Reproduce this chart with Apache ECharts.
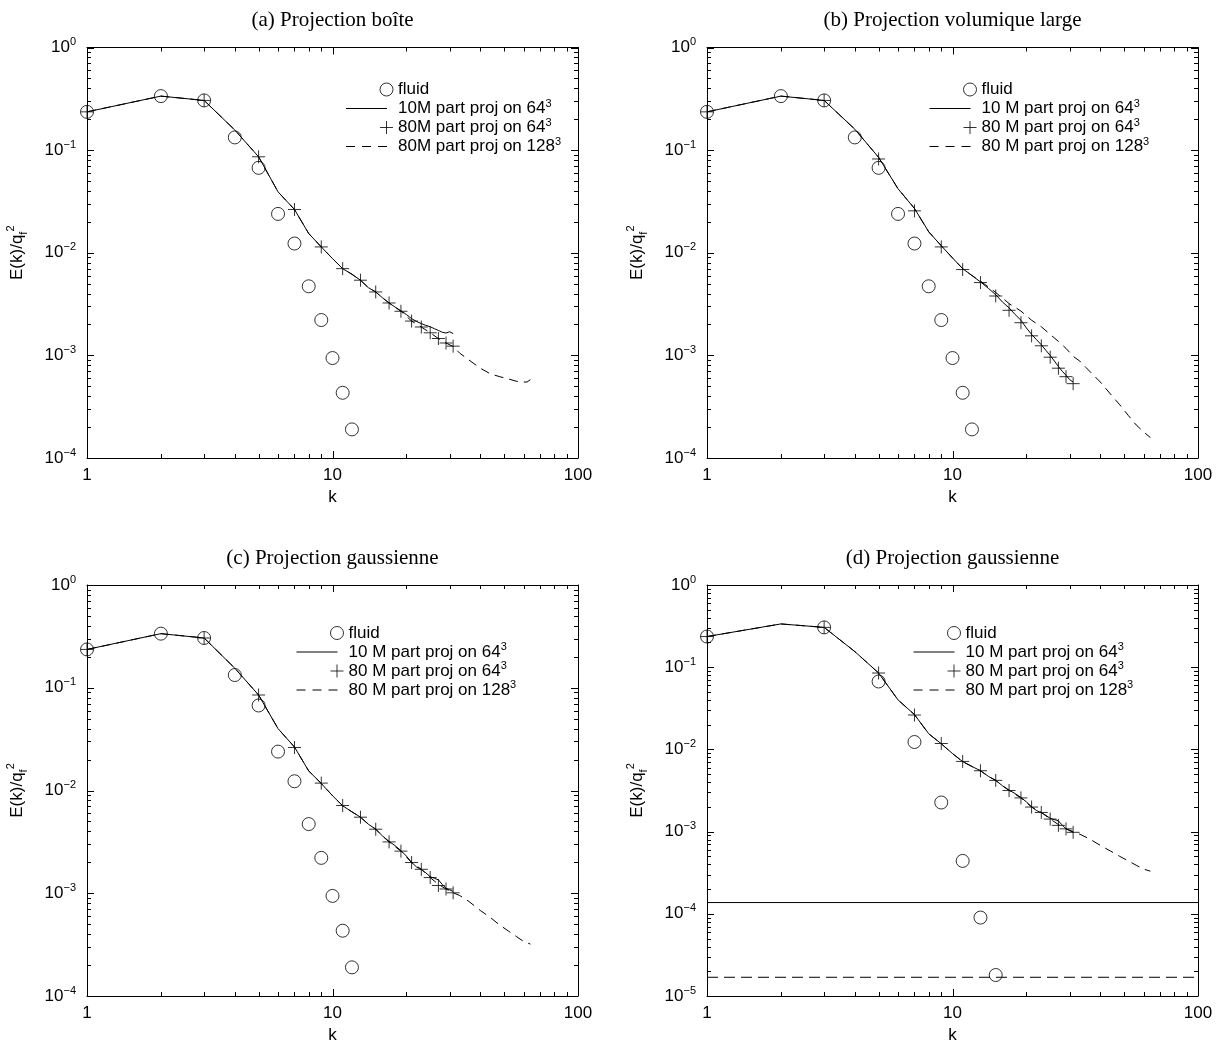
<!DOCTYPE html>
<html>
<head>
<meta charset="utf-8">
<script src="https://cdn.jsdelivr.net/npm/echarts@6/dist/echarts.min.js"></script>
<style>html,body{margin:0;padding:0;background:#fff}#c{width:1227px;height:1048px}</style>
</head>
<body>
<div id="c"></div>
<script>
// ---------- data ----------
const panelTitles = ['(a) Projection boîte', '(b) Projection volumique large', '(c) Projection gaussienne', '(d) Projection gaussienne'];
const xTicks = [1, 10, 100];
const yTicksABC = [1e-4, 1e-3, 1e-2, 1e-1, 1];
const yTicksD = [1e-5, 1e-4, 1e-3, 1e-2, 1e-1, 1];
const minorMultipliers = [2, 3, 4, 5, 6, 7, 8, 9];

const kFluid = [1, 2, 3, 4, 5, 6, 7, 8, 9, 10, 11, 12];
const fluidABC = [0.236, 0.336, 0.305, 0.133, 0.0672, 0.0239, 0.0123, 0.00471, 0.00221, 0.000942, 0.000432, 0.00019];
const kFluidD = [1, 3, 5, 7, 9, 11, 13, 15];
const fluidD = [0.236, 0.305, 0.067, 0.0123, 0.00226, 0.00044, 0.00009, 0.000018];

const k31 = [1, 2, 3, 4, 5, 6, 7, 8, 9, 10, 11, 12, 13, 14, 15, 16, 17, 18, 19, 20, 21, 22, 23, 24, 25, 26, 27, 28, 29, 30, 31];
const kOdd = [1, 3, 5, 7, 9, 11, 13, 15, 17, 19, 21, 23, 25, 27, 29, 31];

// (a)
const solidA = [0.236, 0.336, 0.305, 0.157, 0.0861, 0.0392, 0.0264, 0.0154, 0.0114, 0.00877, 0.0070, 0.00617, 0.0054, 0.00457, 0.00415, 0.00363, 0.00324, 0.00295, 0.00272, 0.0025, 0.00228, 0.00214, 0.00204, 0.00196, 0.0019, 0.00182, 0.00175, 0.00168, 0.00165, 0.0017, 0.00163];
const crossA = [0.236, 0.305, 0.0861, 0.0264, 0.0114, 0.0070, 0.0054, 0.00415, 0.00324, 0.00269, 0.00216, 0.00189, 0.00166, 0.00146, 0.00132, 0.00123];
const kDashA = [1, 2, 3, 4, 5, 6, 7, 8, 9, 10, 11, 12, 13, 14, 15, 16, 17, 19, 21, 23, 25, 27, 29, 31, 33, 36, 40, 44, 48, 52, 56, 60, 62, 64];
const dashA = [0.236, 0.336, 0.305, 0.157, 0.0861, 0.0392, 0.0264, 0.0154, 0.0114, 0.00877, 0.0070, 0.00617, 0.0054, 0.00457, 0.00415, 0.00363, 0.00324, 0.00269, 0.00216, 0.00189, 0.00166, 0.00146, 0.00132, 0.00122, 0.00105, 0.0009, 0.00075, 0.00066, 0.00062, 0.00059, 0.00056, 0.00055, 0.00055, 0.00058];

// (b)
const solidB = [0.236, 0.336, 0.305, 0.16, 0.085, 0.042, 0.027, 0.016, 0.0117, 0.0089, 0.0070, 0.0060, 0.0052, 0.0045, 0.0039, 0.0033, 0.0029, 0.0025, 0.0022, 0.00185, 0.0016, 0.00142, 0.00127, 0.00112, 0.001, 0.00088, 0.00078, 0.0007, 0.00064, 0.00058, 0.00055];
const crossB = [0.236, 0.305, 0.082, 0.0256, 0.0114, 0.00686, 0.00512, 0.00379, 0.00275, 0.00208, 0.00155, 0.00124, 0.00096, 0.00075, 0.00062, 0.00053];
const kDashB = [1, 2, 3, 4, 5, 6, 7, 8, 9, 10, 11, 12, 13, 15, 17, 19, 21, 23, 25, 27, 29, 31, 33, 35, 40, 44, 48, 52, 56, 60, 64];
const dashB = [0.236, 0.336, 0.305, 0.16, 0.085, 0.042, 0.027, 0.016, 0.0117, 0.0089, 0.0070, 0.0060, 0.0053, 0.0041, 0.0032, 0.0027, 0.0022, 0.0019, 0.0016, 0.00137, 0.00117, 0.00098, 0.00088, 0.00076, 0.00055, 0.00042, 0.00033, 0.00026, 0.00021, 0.00018, 0.000158];

// (c)
const solidC = [0.236, 0.336, 0.305, 0.155, 0.085, 0.04, 0.0265, 0.0155, 0.0117, 0.0089, 0.0071, 0.0062, 0.0055, 0.0047, 0.0042, 0.0036, 0.0032, 0.0029, 0.0026, 0.0023, 0.0020, 0.0018, 0.0017, 0.00158, 0.00145, 0.0014, 0.00135, 0.00122, 0.00112, 0.00108, 0.00104];
const crossC = [0.236, 0.305, 0.085, 0.0262, 0.0118, 0.00714, 0.0055, 0.0042, 0.00316, 0.00257, 0.00199, 0.00171, 0.00142, 0.00119, 0.0011, 0.00101];
const kDashC = [1, 2, 3, 4, 5, 6, 7, 8, 9, 10, 11, 12, 13, 14, 15, 16, 17, 19, 21, 23, 25, 27, 29, 31, 33, 36, 40, 44, 48, 52, 56, 60, 64];
const dashC = [0.236, 0.336, 0.305, 0.155, 0.085, 0.04, 0.0265, 0.0155, 0.0117, 0.0089, 0.0071, 0.0062, 0.0055, 0.0047, 0.0042, 0.0036, 0.00316, 0.00257, 0.00199, 0.00171, 0.00142, 0.00122, 0.0011, 0.00101, 0.00095, 0.00083, 0.00068, 0.00058, 0.00049, 0.00043, 0.00038, 0.00034, 0.00032];

// (d)
const solidD = [0.236, 0.336, 0.305, 0.155, 0.085, 0.04, 0.0265, 0.0155, 0.0117, 0.0089, 0.0071, 0.0062, 0.0055, 0.0047, 0.0042, 0.0036, 0.0032, 0.0029, 0.0026, 0.0023, 0.0020, 0.0018, 0.0017, 0.00158, 0.00145, 0.0014, 0.00135, 0.0012, 0.00108, 0.00104, 0.001];
const crossD = [0.236, 0.305, 0.085, 0.0262, 0.0118, 0.00714, 0.0055, 0.0042, 0.00316, 0.00257, 0.00199, 0.00171, 0.00142, 0.00119, 0.00108, 0.00098];
const kDashD = [1, 2, 3, 4, 5, 6, 7, 8, 9, 10, 11, 12, 13, 14, 15, 16, 17, 19, 21, 23, 25, 27, 29, 31, 33, 36, 40, 44, 48, 52, 56, 60, 64];
const dashD = [0.236, 0.336, 0.305, 0.155, 0.085, 0.04, 0.0265, 0.0155, 0.0117, 0.0089, 0.0071, 0.0062, 0.0055, 0.0047, 0.0042, 0.0036, 0.00316, 0.00257, 0.00199, 0.00171, 0.00142, 0.00122, 0.00108, 0.00098, 0.00093, 0.00082, 0.00068, 0.00058, 0.0005, 0.00044, 0.00039, 0.00035, 0.00033];
const kNoiseD = [1, 100];
const noiseD10M = [1.37e-4, 1.37e-4];
const noiseD80M = [1.69e-5, 1.69e-5];

const namesA = ['fluid', '10M part proj on 64³', '80M part proj on 64³', '80M part proj on 128³'];
const namesBCD = ['fluid', '10 M part proj on 64³', '80 M part proj on 64³', '80 M part proj on 128³'];

// ---------- layout ----------
const FONT = 'Liberation Sans';
const grids = [
  {left: 87, top: 47.5, width: 491, height: 410.5},
  {left: 707, top: 47.5, width: 491, height: 410.5},
  {left: 87, top: 585, width: 491, height: 411},
  {left: 707, top: 585, width: 491, height: 411}
];
const legendPos = [[345.5, 81], [929, 81], [296, 624.5], [913, 624.5]];

const panels = [
  {fluidK: kFluid, fluid: fluidABC, solid: solidA, cross: crossA, dashK: kDashA, dash: dashA, names: namesA, ymin: 1e-4, yTicks: yTicksABC},
  {fluidK: kFluid, fluid: fluidABC, solid: solidB, cross: crossB, dashK: kDashB, dash: dashB, names: namesBCD, ymin: 1e-4, yTicks: yTicksABC},
  {fluidK: kFluid, fluid: fluidABC, solid: solidC, cross: crossC, dashK: kDashC, dash: dashC, names: namesBCD, ymin: 1e-4, yTicks: yTicksABC},
  {fluidK: kFluidD, fluid: fluidD, solid: solidD, cross: crossD, dashK: kDashD, dash: dashD, names: namesBCD, ymin: 1e-5, yTicks: yTicksD,
   noise10: noiseD10M, noise80: noiseD80M}
];

const black = {color: '#000', width: 1};
const supFmt = v => {
  const e = Math.round(Math.log10(v));
  return '{b|10}{e|' + (e < 0 ? '\u2212' + (-e) : String(e)) + '}';
};
const legendFmt = name => {
  const m = name.match(/^(.*)³$/);
  return m ? '{t|' + m[1] + '}{s|3}' : '{t|' + name + '}';
};

const xAxes = [], yAxes = [], series = [], legends = [], titles = [];
panels.forEach((p, gi) => {
  const xBase = {type: 'log', logBase: 10, gridIndex: gi, min: 1, max: 100, splitLine: {show: false}, axisTick: {show: false}};
  const yBase = {type: 'log', logBase: 10, gridIndex: gi, min: p.ymin, max: 1, splitLine: {show: false}, axisTick: {show: false}};
  xAxes.push(Object.assign({}, xBase, {
    position: 'bottom',
    axisLine: {show: true, onZero: false, lineStyle: black},
    axisLabel: {show: true, customValues: xTicks, color: '#000', fontSize: 17, fontFamily: FONT, margin: 9},
    name: 'k', nameLocation: 'middle', nameGap: 31,
    nameTextStyle: {color: '#000', fontSize: 17, fontFamily: FONT}
  }));
  xAxes.push(Object.assign({}, xBase, {
    position: 'top',
    axisLine: {show: true, onZero: false, lineStyle: black},
    axisLabel: {show: false}
  }));
  yAxes.push(Object.assign({}, yBase, {
    position: 'left',
    axisLine: {show: true, onZero: false, lineStyle: black},
    axisLabel: {
      show: true, customValues: p.yTicks, margin: 11, formatter: supFmt,
      rich: {
        b: {fontSize: 17, fontFamily: FONT, color: '#000', lineHeight: 22},
        e: {fontSize: 11, fontFamily: FONT, color: '#000', lineHeight: 11, verticalAlign: 'top'}
      }
    },
    name: '{n|E(k)/q}{s|f}{p|2}', nameLocation: 'middle', nameGap: 58, nameRotate: 90,
    nameTextStyle: {
      rich: {
        n: {fontSize: 17, fontFamily: FONT, color: '#000', lineHeight: 24},
        s: {fontSize: 11, fontFamily: FONT, color: '#000', lineHeight: 11, verticalAlign: 'bottom'},
        p: {fontSize: 11, fontFamily: FONT, color: '#000', lineHeight: 11, verticalAlign: 'top'}
      }
    }
  }));
  yAxes.push(Object.assign({}, yBase, {
    position: 'right',
    axisLine: {show: true, onZero: false, lineStyle: black},
    axisLabel: {show: false}
  }));

  const xi = gi * 2, yi = gi * 2;
  series.push({
    name: p.names[3], type: 'line', xAxisIndex: xi, yAxisIndex: yi, symbol: 'none', z: 2,
    lineStyle: {color: '#000', width: 1, type: [9, 6]}, itemStyle: {color: '#000'},
    data: p.dashK.map((k, i) => [k, p.dash[i]])
  });
  series.push({
    name: p.names[1], type: 'line', xAxisIndex: xi, yAxisIndex: yi, symbol: 'none', z: 3,
    lineStyle: {color: '#000', width: 1}, itemStyle: {color: '#000'},
    data: k31.map((k, i) => [k, p.solid[i]])
  });
  if (p.noise10) {
    series.push({
      name: p.names[1], type: 'line', xAxisIndex: xi, yAxisIndex: yi, symbol: 'none', z: 3,
      lineStyle: {color: '#000', width: 1}, itemStyle: {color: '#000'},
      data: kNoiseD.map((k, i) => [k, p.noise10[i]])
    });
    series.push({
      name: p.names[3], type: 'line', xAxisIndex: xi, yAxisIndex: yi, symbol: 'none', z: 2,
      lineStyle: {color: '#000', width: 1, type: [11, 6]}, itemStyle: {color: '#000'},
      data: kNoiseD.map((k, i) => [k, p.noise80[i]])
    });
  }
  series.push({
    name: p.names[2], type: 'scatter', xAxisIndex: xi, yAxisIndex: yi, z: 4,
    symbol: 'path://M0,6L12,6M6,0L6,12', symbolSize: 13,
    itemStyle: {color: 'rgba(0,0,0,0)', borderColor: '#000', borderWidth: 1},
    data: kOdd.map((k, i) => [k, p.cross[i]])
  });
  series.push({
    name: p.names[0], type: 'scatter', xAxisIndex: xi, yAxisIndex: yi, z: 5,
    symbol: 'circle', symbolSize: 13,
    itemStyle: {color: 'rgba(0,0,0,0)', borderColor: '#000', borderWidth: 1},
    data: p.fluidK.map((k, i) => [k, p.fluid[i]])
  });

  const st = {color: 'rgba(0,0,0,0)', borderColor: '#000', borderWidth: 1};
  legends.push({
    orient: 'vertical', left: legendPos[gi][0], top: legendPos[gi][1], padding: 0,
    itemWidth: 47, itemHeight: 14, itemGap: 0, selectedMode: false,
    formatter: legendFmt,
    textStyle: {
      color: '#000', fontSize: 17, fontFamily: FONT,
      rich: {
        t: {fontSize: 17, fontFamily: FONT, color: '#000', lineHeight: 21},
        s: {fontSize: 11, fontFamily: FONT, color: '#000', lineHeight: 10, verticalAlign: 'top'}
      }
    },
    data: [
      {name: p.names[0], icon: 'path://M0,0M47,14M34,7A6.5,6.5,0,1,0,47,7A6.5,6.5,0,1,0,34,7Z', itemStyle: st},
      {name: p.names[1], icon: 'path://M0,0M47,14M0,7L41,7', itemStyle: Object.assign({}, st, {borderType: 'solid'})},
      {name: p.names[2], icon: 'path://M0,0M47,14M34,7L47,7M40.5,0.5L40.5,13.5', itemStyle: st},
      {name: p.names[3], icon: 'path://M0,0M47,14M0,7L41,7', itemStyle: Object.assign({}, st, {borderType: [9, 7]})}
    ]
  });
  const g = grids[gi];
  titles.push({
    text: panelTitles[gi], left: g.left + g.width / 2 - 5, top: gi < 2 ? 5 : 543, textAlign: 'center',
    textStyle: {fontFamily: 'Liberation Serif', fontSize: 21, fontWeight: 'normal', color: '#000'}
  });
});

const chart = echarts.init(document.getElementById('c'), null, {renderer: 'canvas'});
chart.setOption({
  animation: false,
  backgroundColor: '#fff',
  textStyle: {fontFamily: FONT},
  title: titles,
  grid: grids,
  xAxis: xAxes,
  yAxis: yAxes,
  legend: legends,
  series: series
});

// ---------- inward tick marks on all four sides, placed through the axes' own scales ----------
const tickEls = [];
const MAJOR = 7, MINOR = 4;
function seg(x1, y1, x2, y2) {
  tickEls.push({type: 'line', silent: true, z: 10,
    shape: {x1: x1, y1: y1, x2: x2, y2: y2}, style: {stroke: '#000', lineWidth: 1}});
}
panels.forEach((p, gi) => {
  const finder = {gridIndex: gi};
  const xs = [], ys = [];
  xTicks.forEach(v => xs.push([v, MAJOR]));
  xTicks.slice(0, -1).forEach(d => minorMultipliers.forEach(m => xs.push([d * m, MINOR])));
  p.yTicks.forEach(v => ys.push([v, MAJOR]));
  p.yTicks.slice(0, -1).forEach(d => minorMultipliers.forEach(m => ys.push([d * m, MINOR])));
  xs.forEach(([v, len]) => {
    const b = chart.convertToPixel(finder, [v, p.ymin]);
    const t = chart.convertToPixel(finder, [v, 1]);
    const px = Math.round(b[0]) + 0.5;
    seg(px, b[1], px, b[1] - len);
    seg(px, t[1], px, t[1] + len);
  });
  ys.forEach(([v, len]) => {
    const l = chart.convertToPixel(finder, [1, v]);
    const r = chart.convertToPixel(finder, [100, v]);
    const py = Math.round(l[1]) + 0.5;
    seg(l[0], py, l[0] + len, py);
    seg(r[0], py, r[0] - len, py);
  });
});
chart.setOption({graphic: tickEls});
</script>
</body>
</html>
